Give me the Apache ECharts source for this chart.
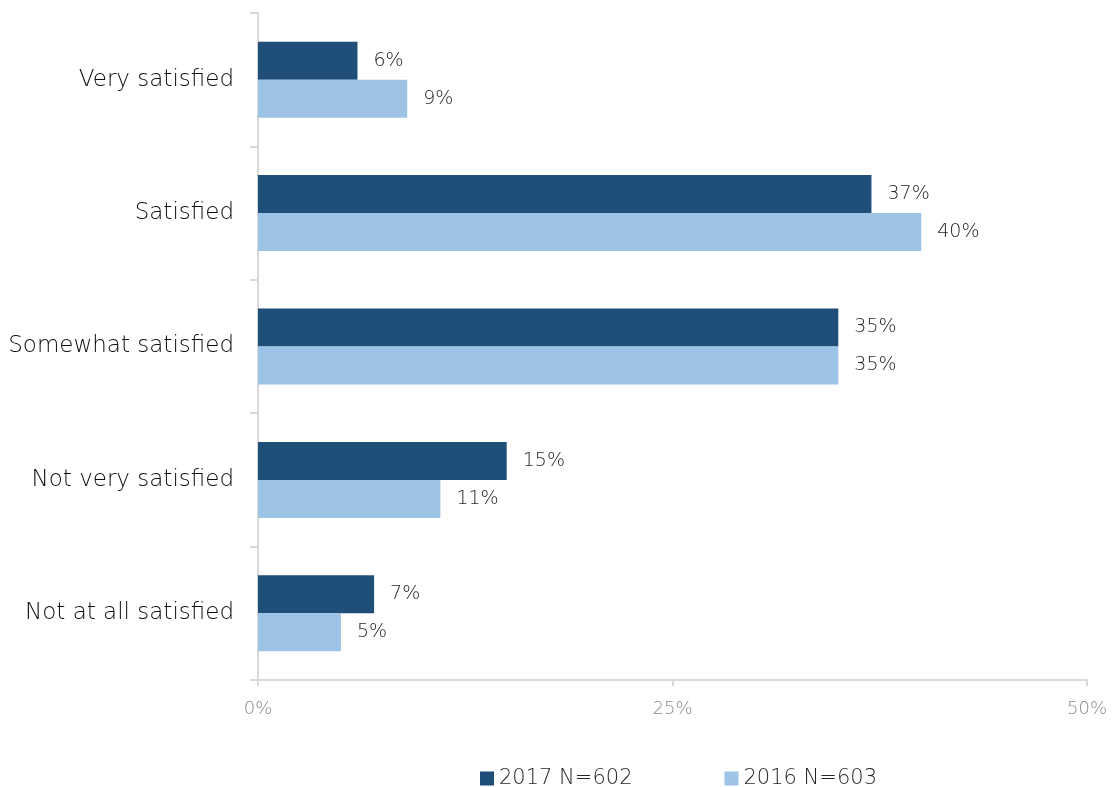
<!DOCTYPE html>
<html>
<head>
<meta charset="utf-8">
<script src="https://cdn.jsdelivr.net/npm/echarts@6/dist/echarts.min.js"></script>
<style>
  html, body { margin: 0; padding: 0; background: #fff; }
  #chart { width: 1112px; height: 787px; }
</style>
</head>
<body>
<div id="chart"></div>
<script>
// Satisfaction levels, listed top to bottom
const categories = ['Very satisfied', 'Satisfied', 'Somewhat satisfied', 'Not very satisfied', 'Not at all satisfied'];
// Percent of respondents per level
const values2017 = [6, 37, 35, 15, 7];
const values2016 = [9, 40, 35, 11, 5];
const seriesNames = ['2017 N=602', '2016 N=603'];
const xTicks = [0, 25, 50];

const FONT = '"DejaVu Sans", sans-serif';
const chart = echarts.init(document.getElementById('chart'), null, { renderer: 'canvas' });

const labelStyle = {
  show: true,
  position: 'right',
  distance: 16,
  formatter: p => p.value + '%',
  color: '#262626',
  fontSize: 19,
  fontWeight: 300,
  fontFamily: FONT
};

chart.setOption({
  animation: false,
  textStyle: { fontFamily: FONT },
  grid: { left: 258, right: 25, top: 13, bottom: 107, containLabel: false },
  legend: {
    top: 763,
    left: 475,
    itemWidth: 14,
    itemHeight: 14,
    itemGap: 92,
    icon: 'rect',
    textStyle: { color: '#262626', fontSize: 21, fontWeight: 300, fontFamily: FONT },
    data: seriesNames
  },
  xAxis: {
    type: 'value',
    min: 0,
    max: 50,
    interval: 25,
    axisLine: { show: true, lineStyle: { color: '#d9d9d9', width: 2 } },
    axisTick: { show: true, length: 6, lineStyle: { color: '#d9d9d9', width: 2 } },
    splitLine: { show: false },
    axisLabel: {
      color: '#8c8c8c',
      fontSize: 18,
      fontWeight: 300,
      fontFamily: FONT,
      margin: 20,
      formatter: v => (xTicks.includes(v) ? v + '%' : '')
    }
  },
  yAxis: {
    type: 'category',
    inverse: true,
    data: categories,
    axisLine: { show: true, lineStyle: { color: '#d9d9d9', width: 2 } },
    axisTick: { show: true, length: 8, lineStyle: { color: '#d9d9d9', width: 2 } },
    axisLabel: { color: '#0d0d0d', fontSize: 23, fontWeight: 300, fontFamily: FONT, margin: 24 }
  },
  series: [
    {
      name: seriesNames[0],
      type: 'bar',
      data: values2017,
      barGap: '0%',
      barCategoryGap: '43%',
      itemStyle: { color: '#1f4e79' },
      label: labelStyle
    },
    {
      name: seriesNames[1],
      type: 'bar',
      data: values2016,
      barGap: '0%',
      barCategoryGap: '43%',
      itemStyle: { color: '#9dc3e6' },
      label: labelStyle
    }
  ]
});
</script>
</body>
</html>
